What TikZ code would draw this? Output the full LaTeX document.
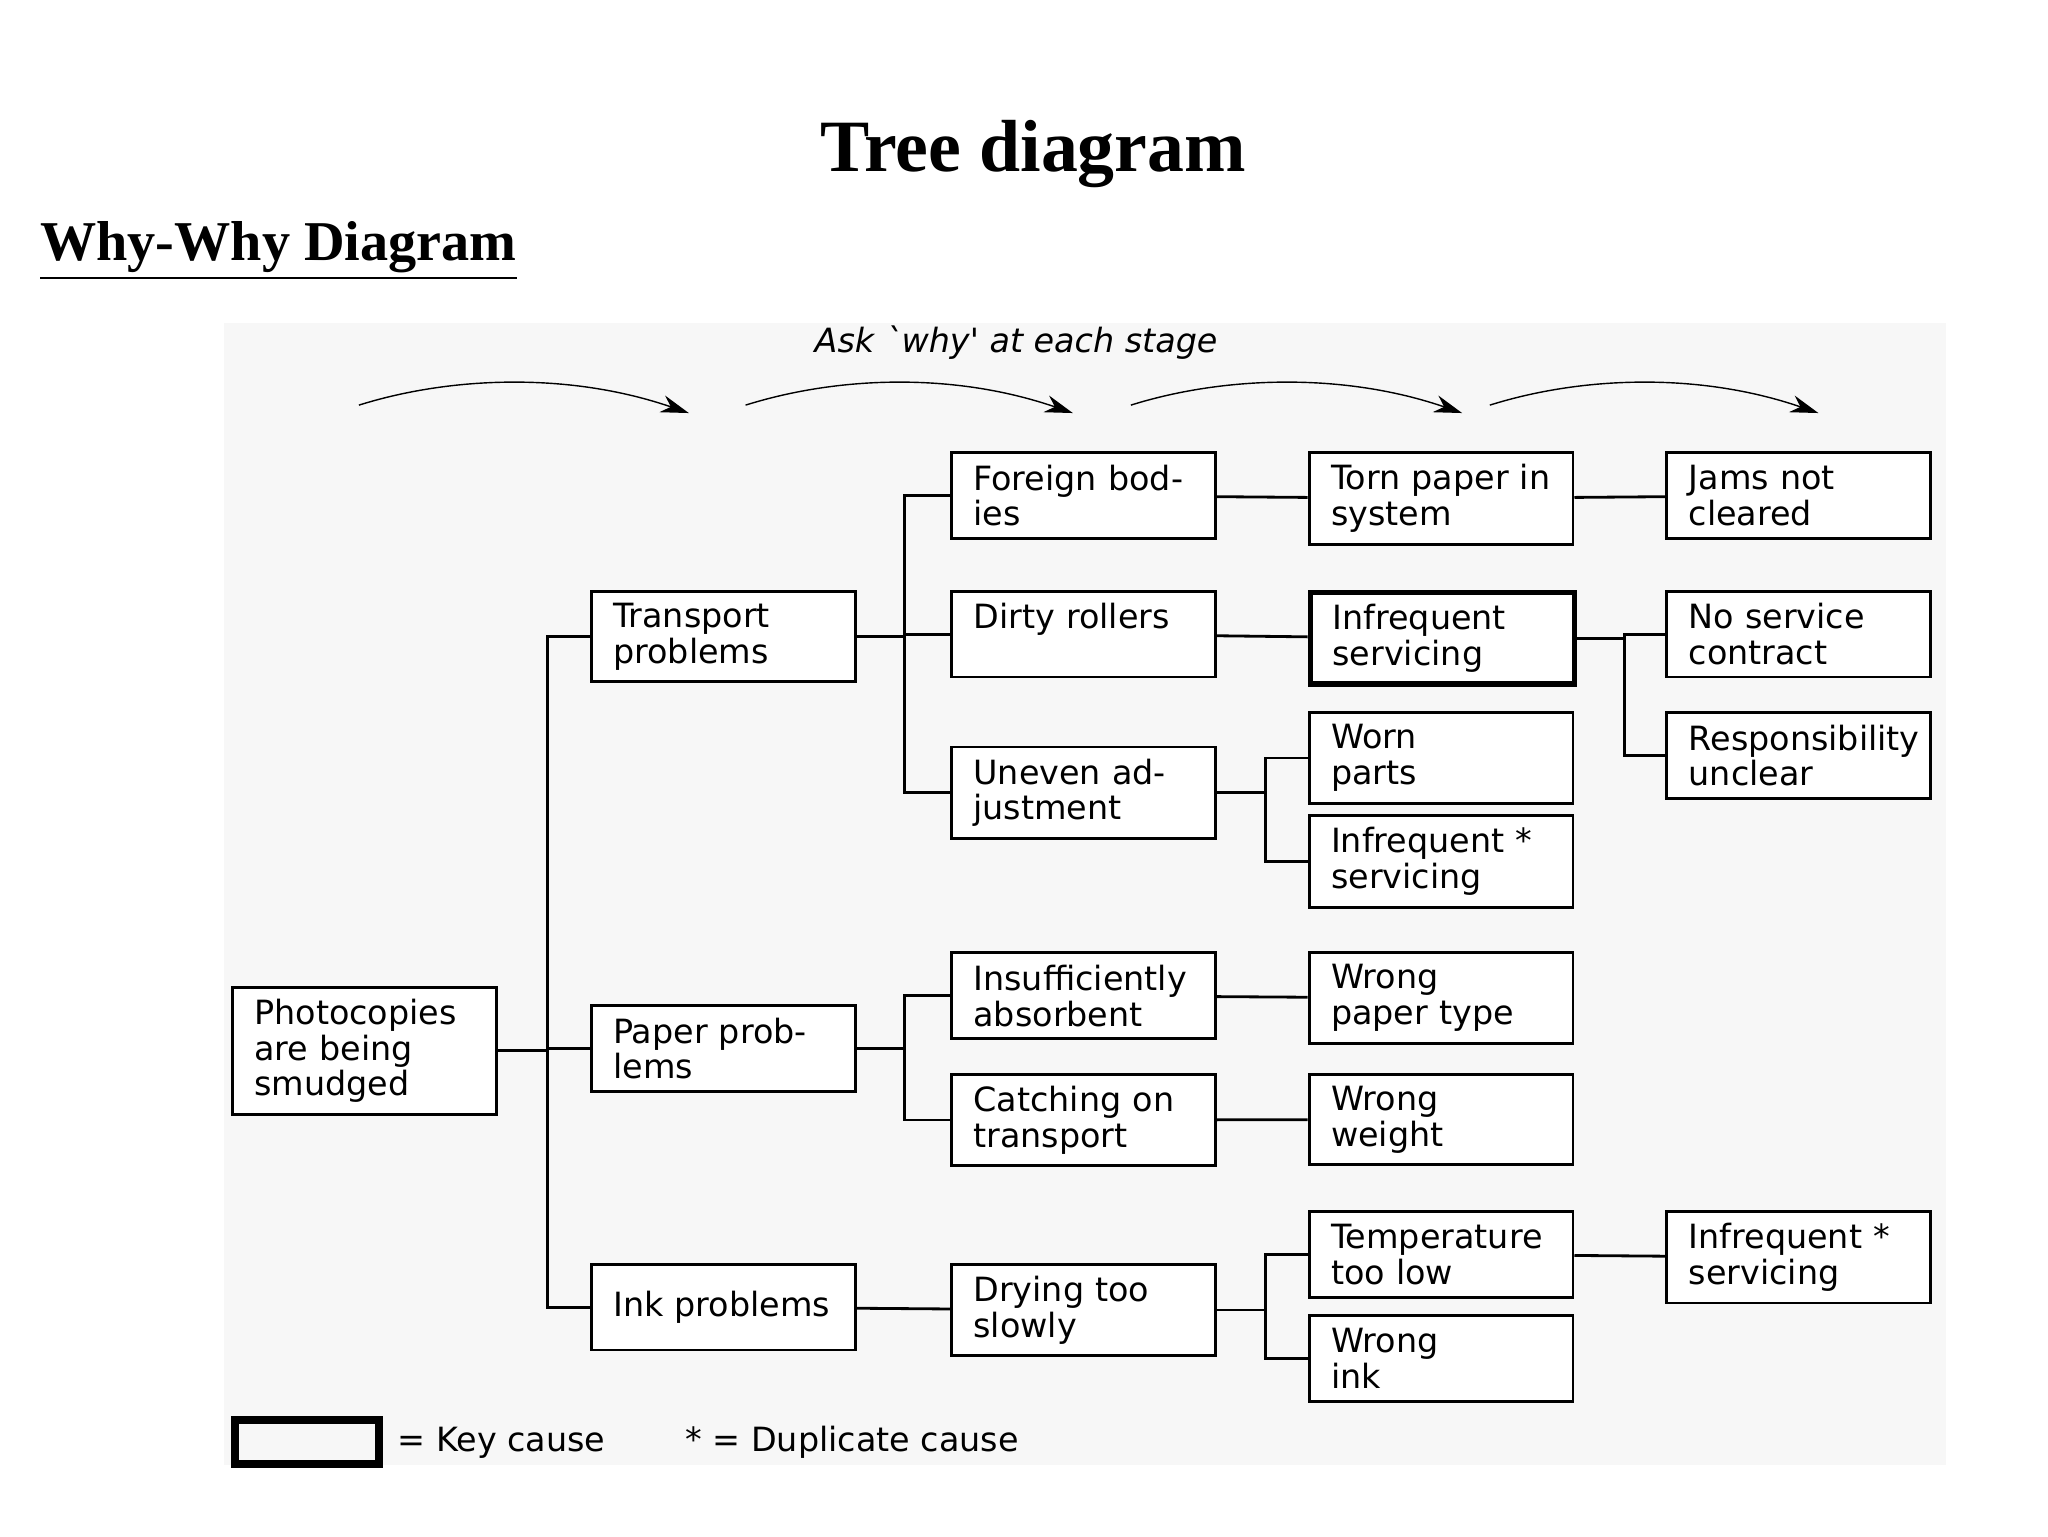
\documentclass[tikz,border=0pt]{standalone}
\usepackage{fontspec}
\setmainfont{Liberation Serif}
\newfontfamily\boxfont{DejaVu Sans}
\usetikzlibrary{arrows.meta}

\tikzset{
  cause/.style={draw, thick, fill=white, anchor=north west, minimum width=2.64cm,
    minimum height=0.858cm, text width=2.2cm, inner xsep=0.22cm, align=left,
    font=\boxfont\fontsize{9.5}{10.2}\selectfont},
  keycause/.style={cause, line width=1.6pt},
  link/.style={thick},
  why/.style={-{Stealth[length=8pt,width=5pt]}, thin},
}

\begin{document}
\begin{tikzpicture}[x=0.0132cm, y=-0.0132cm]
	\useasboundingbox (0,0) rectangle (1552,1164);
	\fill[black!3] (170,245) rectangle (1475,1110);

	\node[font=\bfseries\fontsize{21}{24}\selectfont] (title) at (783,117) {Tree diagram};
	\node[font=\bfseries\fontsize{16}{18}\selectfont, anchor=west, inner sep=0pt] (sub) at (30,190) {\underline{Why-Why Diagram}};

	% ask why
	\node[font=\boxfont\itshape\fontsize{9.5}{11}\selectfont] (ask) at (770,260) {Ask `why' at each stage};
	\foreach \a/\b in {272/522, 565/813, 857/1108, 1129/1378}
		\draw[why] (\a,307) .. controls (\a+70,285) and (\b-90,282) .. (\b,313);

	% column 1 and 2
	\node[cause, minimum height=1.2cm] (photo) at (175,747) {Photocopies are being smudged};
	\node[cause] (transport) at (447,447) {Transport problems};
	\node[cause] (paper) at (447,761) {Paper problems};
	\node[cause] (ink) at (447,957) {Ink problems};

	% column 3
	\node[cause] (foreign) at (720,342) {Foreign bodies};
	\node[cause] (dirty) at (720,447) {Dirty rollers\\\mbox{}};
	\node[cause] (uneven) at (720,565) {Uneven adjustment};
	\node[cause] (insuff) at (720,721) {Insufficiently absorbent};
	\node[cause] (catching) at (720,813) {Catching on transport};
	\node[cause] (drying) at (720,957) {Drying too slowly};

	% column 4
	\node[cause] (torn) at (991,342) {Torn paper in system};
	\node[keycause] (infreq) at (991,447) {Infrequent servicing};
	\node[cause] (worn) at (991,539) {Worn\\parts};
	\node[cause] (infreqb) at (991,617) {Infrequent *\\servicing};
	\node[cause] (wrongpaper) at (991,721) {Wrong\\paper type};
	\node[cause] (wrongweight) at (991,813) {Wrong\\weight};
	\node[cause] (temp) at (991,917) {Temperature too low};
	\node[cause] (wrongink) at (991,996) {Wrong\\ink};

	% column 5
	\node[cause] (jams) at (1262,342) {Jams not cleared};
	\node[cause] (noservice) at (1262,447) {No service contract};
	\node[cause] (resp) at (1262,539) {Responsibility unclear};
	\node[cause] (infreqc) at (1262,917) {Infrequent *\\servicing};

	% links
	\foreach \t in {transport, paper, ink}
		\draw[link] (photo.east) -- ++(38,0) |- (\t.west);
	\foreach \t in {foreign, dirty, uneven}
		\draw[link] (transport.east) -- ++(36,0) |- (\t.west);
	\foreach \t in {insuff, catching}
		\draw[link] (paper.east) -- ++(36,0) |- (\t.west);
	\draw[link] (ink) -- (drying);
	\draw[link] (foreign) -- (torn);
	\draw[link] (torn) -- (jams);
	\draw[link] (dirty) -- (infreq);
	\foreach \t in {noservice, resp}
		\draw[link] (infreq.east) -- ++(36,0) |- (\t.west);
	\foreach \t in {worn, infreqb}
		\draw[link] (uneven.east) -- ++(37,0) |- (\t.west);
	\draw[link] (insuff) -- (wrongpaper);
	\draw[link] (catching) -- (wrongweight);
	\foreach \t in {temp, wrongink}
		\draw[link] (drying.east) -- ++(37,0) |- (\t.west);
	\draw[link] (temp) -- (infreqc);

	% legend
	\node[draw, line width=2.4pt, minimum width=1.44cm, minimum height=0.44cm, anchor=north west] (key) at (175,1073) {};
	\node[anchor=west, font=\boxfont\fontsize{9.5}{11}\selectfont] (keytext) at (292,1093) {= Key cause};
	\node[anchor=west, font=\boxfont\fontsize{9.5}{11}\selectfont] (duptext) at (510,1093) {* = Duplicate cause};
\end{tikzpicture}
\end{document}
